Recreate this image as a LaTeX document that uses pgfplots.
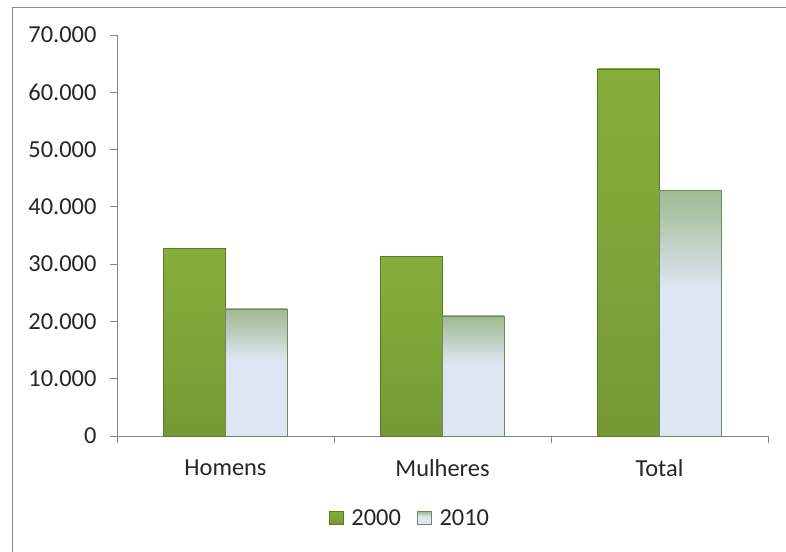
\documentclass[border=0pt]{standalone}
\usepackage{fontspec}
\setmainfont{Carlito}
\usepackage{pgfplots}
\pgfplotsset{compat=1.18}
\definecolor{axgray}{HTML}{868686}
\definecolor{frame}{HTML}{8C8C8C}
\definecolor{gTop}{HTML}{8DB840}
\definecolor{gBot}{HTML}{6A8D30}
\definecolor{gEdge}{HTML}{5A7A28}
\definecolor{bTop}{HTML}{7C9A48}
\definecolor{bMid}{HTML}{ADC4A8}
\definecolor{bBlue}{HTML}{DDE7F3}
\definecolor{bBot}{HTML}{AEBDB5}
\definecolor{bEdge}{HTML}{728660}
\pgfdeclareverticalshading{bar2000}{100bp}{color(0bp)=(gBot); color(40bp)=(gBot!55!gTop); color(100bp)=(gTop)}
\pgfdeclareverticalshading{bar2010}{100bp}{color(0bp)=(bBot); color(8bp)=(bBlue); color(55bp)=(bBlue); color(70bp)=(bMid); color(92bp)=(bTop); color(100bp)=(bTop)}
\begin{document}
\begin{tikzpicture}
\useasboundingbox (-117bp,-116bp) rectangle (669bp,436bp);
\draw[frame, line width=1.6bp] (-104.5bp,-116bp) -- (-104.5bp,428.5bp) -- (669bp,428.5bp);
\begin{axis}[
  at={(0,0)}, anchor=south west,
  scale only axis, width=651bp, height=401bp,
  xmin=-0.5, xmax=2.5, ymin=0, ymax=70000,
  axis x line*=bottom, axis y line*=left,
  axis line style={draw=axgray, line width=0.8bp},
  ytick={0,10000,...,70000},
  scaled y ticks=false,
  /pgf/number format/.cd, 1000 sep={.}, assume math mode=true, /pgfplots/.cd,
  tick align=outside,
  major tick length=7bp, minor tick length=7bp,
  tick style={draw=axgray, line width=0.8bp},
  xtick={0,1,2}, xticklabels={Homens,Mulheres,Total},
  major x tick style={draw=none},
  minor xtick={-0.5,0.5,1.5,2.5},
  ticklabel style={font=\fontsize{24.5}{29}\selectfont, text=black!85},
  xticklabel style={yshift=-13bp},
  yticklabel style={xshift=-10bp},
  bar width=0.2857,
  legend columns=2,
  legend style={draw=none, at={(0.45,-0.2045)}, anchor=center,
    font=\fontsize{24.5}{29}\selectfont, text=black!85,
    /tikz/every odd column/.append style={column sep=6bp},
    /tikz/every even column/.append style={column sep=14bp}},
  legend image code/.code={\fill[#1] (0bp,-6.5bp) rectangle (14bp,6.5bp);},
  b2000/.style={ybar, bar shift=-0.14285, draw=gEdge, line width=0.6bp, shading=bar2000},
  b2010/.style={ybar, bar shift=0.14285, draw=bEdge, line width=0.6bp, shading=bar2010},
]
\addplot[b2000] coordinates {(0,32700)};
\addplot[b2010] coordinates {(0,22200)};
\addplot[b2000, forget plot] coordinates {(1,31300)};
\addplot[b2010, forget plot] coordinates {(1,20950)};
\addplot[b2000, forget plot] coordinates {(2,64100)};
\addplot[b2010, forget plot] coordinates {(2,42900)};
\legend{2000,2010}
\end{axis}
\end{tikzpicture}
\end{document}
